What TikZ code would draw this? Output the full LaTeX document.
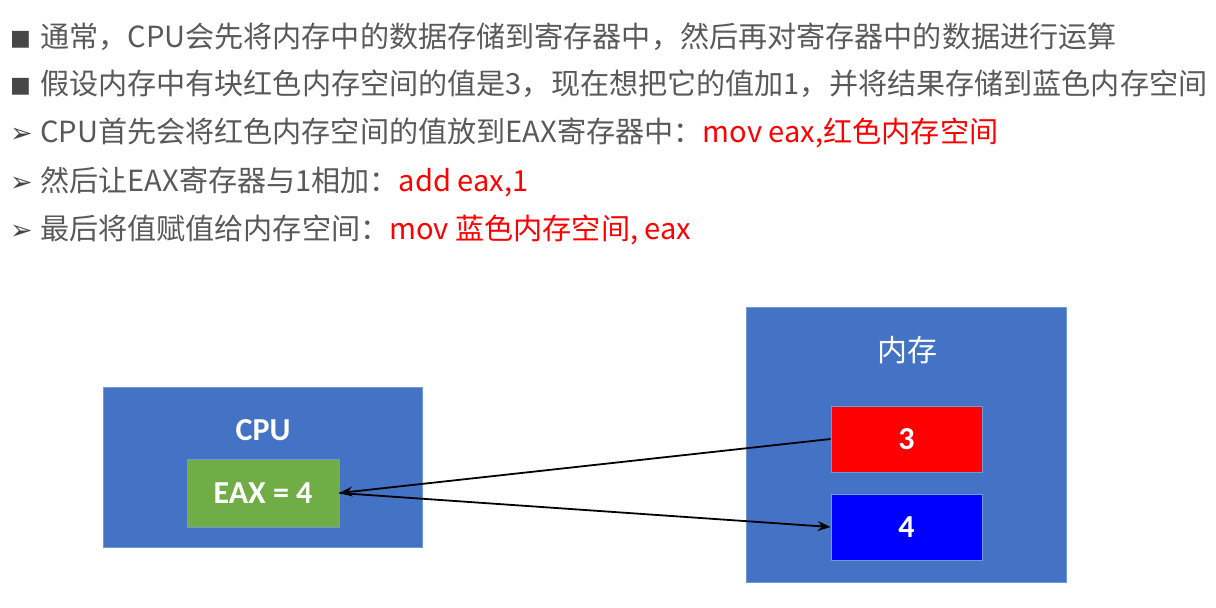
\documentclass[tikz,border=0pt]{standalone}
\usepackage{fontspec}
\usetikzlibrary{arrows.meta}
\setmainfont{Noto Sans CJK SC}
\newfontfamily\cjkfont{Noto Sans CJK SC}
\newfontfamily\labelfont{Carlito}
\newfontfamily\symfont{DejaVu Sans}
\definecolor{bodygrey}{HTML}{595959}
\definecolor{boxblue}{HTML}{4472C4}
\definecolor{edgeblue}{HTML}{6F9AD6}
\definecolor{eaxgreen}{HTML}{70AD47}
\definecolor{cellred}{HTML}{FF0000}
\definecolor{cellblue}{HTML}{0000FF}
\definecolor{codered}{HTML}{FF0000}
\tikzset{
  line/.style={anchor=base west, inner sep=0pt, text=bodygrey,
    font=\cjkfont\fontsize{29.1}{30}\selectfont},
  bullet/.style={anchor=base west, inner sep=0pt, text=bodygrey!80!black,
    font=\symfont\fontsize{22}{24}\selectfont},
  arrowbullet/.style={anchor=base west, inner sep=0pt, text=bodygrey!80!black,
    font=\symfont\fontsize{27}{28}\selectfont},
  box/.style={rectangle, inner sep=0pt, draw=edgeblue, line width=0.8pt},
  boxlabel/.style={inner sep=0pt, text=white,
    font=\labelfont\bfseries\fontsize{32}{34}\selectfont},
  arr/.style={-{Stealth[length=13pt,width=10pt]}, line width=1.8pt, black},
}
\newcommand{\code}[1]{\textcolor{codered}{#1}}
\begin{document}
\begin{tikzpicture}[x=1pt,y=-1pt]
  \useasboundingbox (0,0) rectangle (1216,608);

  % bullet list
  \node[bullet] (b1) at (10,45) {■};
  \node[line]   (t1) at (40,47) {通常，CPU会先将内存中的数据存储到寄存器中，然后再对寄存器中的数据进行运算};
  \node[bullet] (b2) at (10,92) {■};
  \node[line]   (t2) at (40,94) {假设内存中有块红色内存空间的值是3，现在想把它的值加1，并将结果存储到蓝色内存空间};
  \node[arrowbullet] (b3) at (10,142) {➢};
  \node[line]   (t3) at (40,142) {CPU首先会将红色内存空间的值放到EAX寄存器中：\code{mov eax,红色内存空间}};
  \node[arrowbullet] (b4) at (10,191) {➢};
  \node[line]   (t4) at (40,191) {然后让EAX寄存器与1相加：\code{add eax,1}};
  \node[arrowbullet] (b5) at (10,239) {➢};
  \node[line]   (t5) at (40,239) {最后将值赋值给内存空间：\code{mov 蓝色内存空间, eax}};

  % CPU with its register
  \node[box, fill=boxblue, minimum width=319pt, minimum height=160pt] (cpu) at (262.5,467) {};
  \node[boxlabel] (cpulabel) at (263,430) {CPU};
  \node[box, boxlabel, draw=edgeblue, fill=eaxgreen, minimum width=152pt, minimum height=68pt] (eax) at (263,493) {EAX = 4};

  % memory with two cells
  \node[box, fill=boxblue, minimum width=320pt, minimum height=275pt] (mem) at (906,444.5) {};
  \node[inner sep=0pt, text=white, font=\cjkfont\fontsize{30}{32}\selectfont] (memlabel) at (907,350) {内存};
  \node[box, boxlabel, draw=edgeblue, fill=cellred, minimum width=151pt, minimum height=66pt] (red) at (906.5,439) {3};
  \node[box, boxlabel, draw=edgeblue, fill=cellblue, minimum width=151pt, minimum height=66pt] (blue) at (906.5,527) {4};

  % data movement
  \draw[arr] (red.west) -- (eax.east);
  \draw[arr] (eax.east) -- (blue.west);
\end{tikzpicture}
\end{document}
